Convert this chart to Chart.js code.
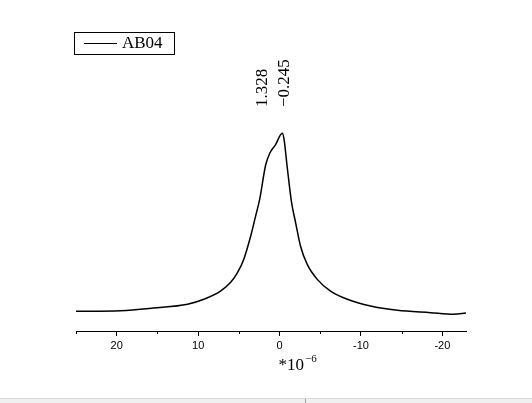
<!DOCTYPE html>
<html>
<head>
<meta charset="utf-8">
<script src="https://cdn.jsdelivr.net/npm/chart.js@4/dist/chart.umd.min.js"></script>
<style>
  html, body { margin: 0; padding: 0; background: #fff; }
  #wrap { position: relative; width: 532px; height: 398px; }
  #strip { position: relative; width: 532px; height: 4px; border-top: 1px solid #d9d9d9; background: #f0f0f0; }
  #strip span { position: absolute; left: 305px; top: 0; width: 1px; height: 4px; background: #a0a0a0; }
</style>
</head>
<body>
<div id="wrap"><canvas id="c" width="532" height="398"></canvas></div>
<div id="strip"><span></span></div>
<script>
// ---- data ----
const seriesLabel = 'AB04';
const xValues = [25.0, 19.5, 15.5, 11.3, 9.3, 7.25, 6.0, 5.15, 4.4, 3.55, 2.95, 2.45, 1.7, 1.2, 0.5, -0.33, -0.53, -0.95, -1.47, -1.97, -2.58, -3.4, -4.63, -6.27, -8.32, -11.18, -14.46, -18.55, -21.4, -22.9];
const intensity = [9.9, 10.2, 11.5, 13.4, 15.9, 20.0, 24.4, 29.4, 35.9, 47.5, 57.5, 65.9, 83.4, 89.2, 93.4, 99.2, 96.7, 81.9, 64.6, 54.4, 42.5, 33.4, 25.9, 20.0, 15.9, 12.5, 10.4, 9.2, 8.4, 9.0];
const peakLabels = [1.328, -0.245];
const majorTicks = [20, 10, 0, -10, -20];
const minorTicks = [25, 15, 5, -5, -15];
const xMin = -22.9, xMax = 25;
const axisTitle = '*10';
const axisTitleExp = '−6';

const points = xValues.map((x, i) => ({ x: x, y: intensity[i] }));

const serif = '"Liberation Serif", "DejaVu Serif", serif';
const sans = '"Liberation Sans", Arial, sans-serif';

const extras = {
  id: 'extras',
  afterDraw(chart) {
    const ctx = chart.ctx;
    const xs = chart.scales.x;
    const bottom = chart.chartArea.bottom;
    ctx.save();
    // minor ticks
    ctx.strokeStyle = '#000';
    ctx.lineWidth = 1;
    minorTicks.forEach(v => {
      const px = Math.round(xs.getPixelForValue(v)) + 0.5;
      ctx.beginPath();
      ctx.moveTo(px, bottom);
      ctx.lineTo(px, bottom + 3);
      ctx.stroke();
    });
    // axis title with exponent
    const x0 = xs.getPixelForValue(0);
    ctx.fillStyle = '#000';
    ctx.textBaseline = 'alphabetic';
    ctx.textAlign = 'left';
    ctx.font = '17px ' + serif;
    const tx = x0 - 1, ty = 370;
    ctx.fillText(axisTitle, tx, ty);
    const w = ctx.measureText(axisTitle).width;
    ctx.font = '11px ' + serif;
    ctx.fillText(axisTitleExp, tx + w + 1, ty - 8);
    // peak labels, rotated
    const dx = [-6, 3];
    ctx.font = '17px ' + serif;
    ctx.textBaseline = 'middle';
    peakLabels.forEach((v, i) => {
      const px = xs.getPixelForValue(v) + dx[i];
      ctx.save();
      ctx.translate(px, 107);
      ctx.rotate(-Math.PI / 2);
      ctx.textAlign = 'left';
      ctx.fillText(v.toFixed(3).replace('-', '−'), 0, 0);
      ctx.restore();
    });
    // legend box
    const lx = 74.5, ly = 32.5, lw = 100, lh = 22;
    ctx.strokeStyle = '#000';
    ctx.lineWidth = 1;
    ctx.strokeRect(lx, ly, lw, lh);
    ctx.beginPath();
    ctx.moveTo(84, 43.5);
    ctx.lineTo(117, 43.5);
    ctx.stroke();
    ctx.font = '17px ' + serif;
    ctx.textBaseline = 'middle';
    ctx.fillText(chart.data.datasets[0].label, 122, 44);
    ctx.restore();
  }
};

new Chart(document.getElementById('c'), {
  type: 'line',
  data: {
    datasets: [{
      label: seriesLabel,
      data: points,
      borderColor: '#000',
      borderWidth: 1.5,
      pointRadius: 0,
      fill: false,
      cubicInterpolationMode: 'monotone'
    }]
  },
  options: {
    responsive: false,
    animation: false,
    layout: { padding: { left: 76, right: 66, top: 32, bottom: 0 } },
    plugins: { legend: { display: false }, tooltip: { enabled: false } },
    scales: {
      x: {
        type: 'linear',
        reverse: true,
        min: xMin,
        max: xMax,
        afterBuildTicks: s => { s.ticks = majorTicks.map(v => ({ value: v })); },
        afterFit: s => { s.height = 67; },
        border: { display: true, color: '#000', width: 1 },
        grid: { display: true, drawOnChartArea: false, drawTicks: true, tickLength: 5, color: '#000', tickColor: '#000' },
        ticks: {
          autoSkip: false,
          includeBounds: false,
          color: '#000',
          padding: 3,
          font: { family: sans, size: 11 },
          callback: v => String(v)
        }
      },
      y: { display: false, min: 0, max: 150 }
    }
  },
  plugins: [extras]
});
</script>
</body>
</html>
